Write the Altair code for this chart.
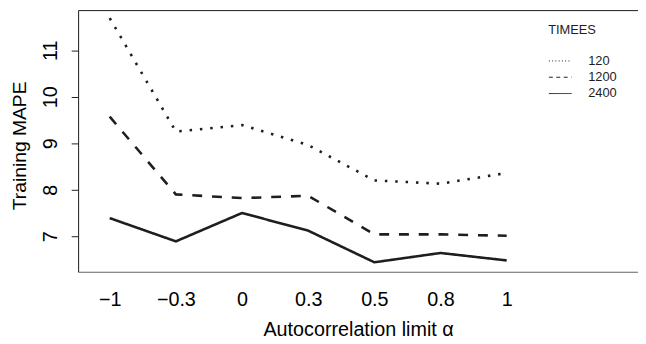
import altair as alt
import pandas as pd

# ---- data ----
x_labels = ["\u22121", "\u22120.3", "0", "0.3", "0.5", "0.8", "1"]
series_names = ["120", "1200", "2400"]
mape_120 = [11.69, 9.25, 9.39, 8.96, 8.20, 8.13, 8.36]
mape_1200 = [9.57, 7.90, 7.82, 7.87, 7.04, 7.04, 7.01]
mape_2400 = [7.39, 6.89, 7.50, 7.12, 6.44, 6.64, 6.48]
y_ticks = [7, 8, 9, 10, 11]

rows = []
for name, vals in zip(series_names, [mape_120, mape_1200, mape_2400]):
    for i, v in enumerate(vals):
        rows.append({"idx": i, "label": x_labels[i], "series": name, "mape": v})
df = pd.DataFrame(rows)

FONT = "Liberation Sans"
INK = "#1e1e1e"

label_js = "[" + ",".join("'" + l + "'" for l in x_labels) + "][datum.value]"

x_scale = alt.Scale(domain=[-0.4776, 7.985], nice=False, zero=False)
y_scale = alt.Scale(domain=[6.236, 11.862], nice=False, zero=False)

x_enc = alt.X(
    "idx:Q",
    scale=x_scale,
    axis=alt.Axis(
        orient="bottom",
        values=list(range(len(x_labels))),
        labelExpr=label_js,
        ticks=False,
        grid=False,
        domain=True,
        domainColor="#6e6e6e",
        domainWidth=1,
        labelFontSize=20,
        labelPadding=28,
        labelBaseline="middle",
        title="Autocorrelation limit \u03b1",
        titleFontSize=20,
        titleFontWeight="normal",
        titleBaseline="middle",
        titleY=59,
    ),
)

y_enc = alt.Y(
    "mape:Q",
    scale=y_scale,
    axis=alt.Axis(
        values=y_ticks,
        grid=False,
        tickSize=7,
        tickColor=INK,
        domain=True,
        domainColor=INK,
        labelAngle=270,
        labelAlign="center",
        labelBaseline="bottom",
        labelPadding=11,
        labelFontSize=20,
        title="Training MAPE",
        titleFontSize=19.5,
        titleFontWeight="normal",
        titleAngle=270,
        titleAlign="center",
        titleBaseline="middle",
        titleX=-59,
        titleY=137,
    ),
)

lines = alt.Chart(df).mark_line(strokeWidth=2.6, color=INK, strokeCap="butt").encode(
    x=x_enc,
    y=y_enc,
    strokeDash=alt.StrokeDash(
        "series:N",
        scale=alt.Scale(domain=series_names, range=[[2.5, 8], [10, 10], [1, 0]]),
        legend=None,
    ),
    detail="series:N",
)

legend_layer = (
    alt.Chart(df)
    .transform_filter("datum.mape < 0")
    .mark_line(strokeWidth=1, color=INK)
    .encode(
        x=alt.X(
            "idx:Q",
            scale=x_scale,
            axis=alt.Axis(
                orient="top",
                labels=False,
                ticks=False,
                grid=False,
                domain=True,
                domainColor=INK,
                title=None,
            ),
        ),
        y=alt.Y("mape:Q", scale=y_scale, axis=None),
        strokeDash=alt.StrokeDash(
            "series:N",
            scale=alt.Scale(domain=series_names, range=[[1, 2.3], [4, 3.5], [1, 0]]),
            legend=alt.Legend(
                title="TIMEES",
                orient="none",
                legendX=476,
                legendY=14,
                padding=0,
                titleFont=FONT,
                titleFontSize=13,
                titleFontWeight="normal",
                titleColor=INK,
                titleBaseline="top",
                titlePadding=18,
                labelFont=FONT,
                labelFontSize=13,
                labelColor=INK,
                labelOffset=27.5,
                symbolType="M-1,0H3",
                symbolSize=132,
                symbolStrokeWidth=1,
                symbolStrokeColor=INK,
                rowPadding=2.5,
            ),
        ),
    )
)

chart = (
    alt.layer(lines, legend_layer)
    .resolve_scale(strokeDash="independent")
    .resolve_axis(x="independent", y="independent")
    .properties(
        width=567,
        height=265,
        autosize=alt.AutoSizeParams(type="none"),
        padding={"left": 71, "top": 0, "right": 0, "bottom": 70},
    )
    .configure_view(stroke=None)
    .configure_axis(
        labelFont=FONT,
        titleFont=FONT,
        labelColor=INK,
        titleColor=INK,
    )
    .configure(background="white")
)

chart.save("out.html", embed_options={"renderer": "svg", "actions": False})
